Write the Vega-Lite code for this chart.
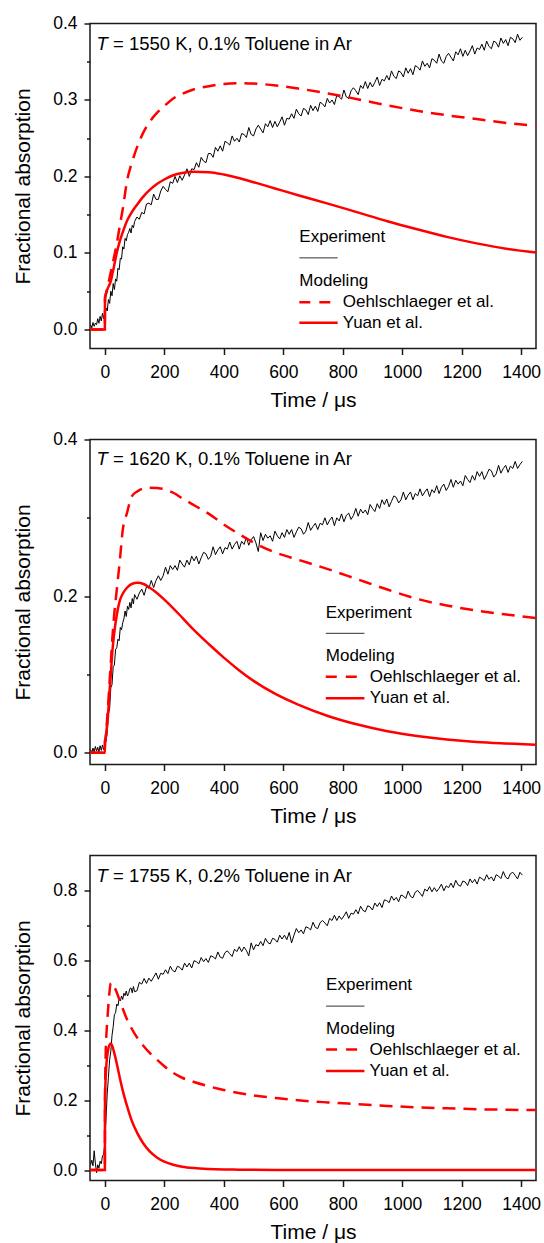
{
  "$schema": "https://vega.github.io/schema/vega-lite/v6.json",
  "background": "white",
  "padding": {"left": 11, "top": 13.5, "right": 0, "bottom": 0},
  "bounds": "flush",
  "spacing": 91,
  "config": {
    "font": "Liberation Sans",
    "view": {"stroke": "#1a1a1a", "strokeWidth": 1.5},
    "axis": {"domain": false, "grid": false, "tickColor": "#1a1a1a", "tickWidth": 1.5, "labelFont": "Liberation Sans", "labelFontSize": 17.5, "labelColor": "black", "titleFont": "Liberation Sans", "titleFontSize": 21, "titleFontWeight": "normal", "titleColor": "black"},
    "axisX": {"labelPadding": 9, "titlePadding": 8, "labelFlush": false},
    "axisY": {"labelPadding": 7, "titlePadding": 19},
    "text": {"align": "left", "baseline": "alphabetic", "fontSize": 17, "font": "Liberation Sans", "color": "black"},
    "line": {"strokeCap": "butt"}
  },
  "datasets": {
    "exp": [
      {"t":-48,"a":0.006,"b":0.004,"c":0.015},{"t":-44,"a":0.002,"b":0.000,"c":0.028},{"t":-40,"a":0.009,"b":0.006,"c":0.012},{"t":-36,"a":0.004,"b":0.001,"c":0.055},{"t":-32,"a":0.008,"b":0.008,"c":0.020},{"t":-28,"a":0.006,"b":0.002,"c":-0.008},{"t":-24,"a":0.014,"b":0.007,"c":0.015},{"t":-20,"a":0.008,"b":0.001,"c":0.005},{"t":-16,"a":0.017,"b":0.009,"c":0.025},{"t":-12,"a":0.011,"b":0.003,"c":0.018},{"t":-8,"a":0.021,"b":0.010,"c":0.040},{"t":-4,"a":0.014,"b":0.004,"c":0.045},{"t":0,"a":0.022,"b":0.009,"c":0.080},
      {"t":4,"a":0.028,"b":0.015,"c":0.150},{"t":8,"a":0.024,"b":0.026,"c":0.220},{"t":12,"a":0.039,"b":0.050,"c":0.265},{"t":16,"a":0.034,"b":0.056,"c":0.315},{"t":20,"a":0.050,"b":0.083,"c":0.340},{"t":24,"a":0.044,"b":0.087,"c":0.385},{"t":28,"a":0.060,"b":0.110,"c":0.410},{"t":32,"a":0.052,"b":0.112,"c":0.445},{"t":36,"a":0.066,"b":0.132,"c":0.450},{"t":40,"a":0.063,"b":0.134,"c":0.475},{"t":44,"a":0.080,"b":0.145,"c":0.470},{"t":48,"a":0.078,"b":0.143,"c":0.490},{"t":52,"a":0.093,"b":0.160,"c":0.484},{"t":56,"a":0.092,"b":0.157,"c":0.498},{"t":60,"a":0.108,"b":0.166,"c":0.488},{"t":64,"a":0.105,"b":0.171,"c":0.506},{"t":68,"a":0.119,"b":0.181,"c":0.499},{"t":72,"a":0.116,"b":0.174,"c":0.512},{"t":76,"a":0.124,"b":0.187,"c":0.498},{"t":80,"a":0.127,"b":0.183,"c":0.505},{"t":84,"a":0.132,"b":0.192,"c":0.519},{"t":88,"a":0.126,"b":0.185,"c":0.521},{"t":92,"a":0.136,"b":0.197,"c":0.507},{"t":96,"a":0.133,"b":0.190,"c":0.525},{"t":100,"a":0.141,"b":0.202,"c":0.510},
      {"t":108,"a":0.147,"b":0.196,"c":0.513},{"t":116,"a":0.144,"b":0.204,"c":0.537},{"t":124,"a":0.153,"b":0.209,"c":0.532},{"t":132,"a":0.151,"b":0.201,"c":0.548},{"t":140,"a":0.164,"b":0.212,"c":0.534},{"t":148,"a":0.165,"b":0.210,"c":0.549},{"t":156,"a":0.163,"b":0.220,"c":0.540},{"t":164,"a":0.177,"b":0.211,"c":0.552},{"t":172,"a":0.170,"b":0.220,"c":0.564},{"t":180,"a":0.170,"b":0.226,"c":0.546},{"t":188,"a":0.181,"b":0.220,"c":0.563},{"t":196,"a":0.187,"b":0.226,"c":0.560},{"t":204,"a":0.183,"b":0.237,"c":0.573},{"t":212,"a":0.180,"b":0.228,"c":0.562},{"t":220,"a":0.193,"b":0.239,"c":0.583},{"t":228,"a":0.191,"b":0.234,"c":0.571},{"t":236,"a":0.200,"b":0.239,"c":0.567},{"t":244,"a":0.192,"b":0.233,"c":0.583},{"t":252,"a":0.201,"b":0.246,"c":0.580},{"t":260,"a":0.195,"b":0.241,"c":0.572},{"t":268,"a":0.202,"b":0.237,"c":0.592},{"t":276,"a":0.210,"b":0.246,"c":0.581},{"t":284,"a":0.200,"b":0.240,"c":0.592},{"t":292,"a":0.210,"b":0.251,"c":0.578},{"t":300,"a":0.209,"b":0.245,"c":0.599},{"t":308,"a":0.218,"b":0.251,"c":0.596},{"t":316,"a":0.212,"b":0.241,"c":0.590},{"t":324,"a":0.225,"b":0.249,"c":0.608},{"t":332,"a":0.220,"b":0.256,"c":0.596},{"t":340,"a":0.218,"b":0.254,"c":0.605},{"t":348,"a":0.230,"b":0.247,"c":0.594},{"t":356,"a":0.230,"b":0.251,"c":0.613},{"t":364,"a":0.225,"b":0.263,"c":0.610},{"t":372,"a":0.238,"b":0.253,"c":0.604},{"t":380,"a":0.233,"b":0.259,"c":0.624},{"t":388,"a":0.240,"b":0.263,"c":0.609},{"t":396,"a":0.233,"b":0.254,"c":0.606},{"t":404,"a":0.246,"b":0.262,"c":0.622},{"t":412,"a":0.244,"b":0.260,"c":0.627},{"t":420,"a":0.241,"b":0.269,"c":0.619},{"t":428,"a":0.253,"b":0.260,"c":0.611},{"t":436,"a":0.246,"b":0.266,"c":0.632},{"t":444,"a":0.250,"b":0.270,"c":0.625},{"t":452,"a":0.245,"b":0.260,"c":0.639},{"t":460,"a":0.256,"b":0.270,"c":0.625},{"t":468,"a":0.255,"b":0.266,"c":0.638},{"t":476,"a":0.251,"b":0.275,"c":0.628},{"t":484,"a":0.264,"b":0.265,"c":0.613},{"t":492,"a":0.255,"b":0.272,"c":0.650},{"t":500,"a":0.253,"b":0.276,"c":0.630},{"t":508,"a":0.262,"b":0.268,"c":0.645},{"t":516,"a":0.267,"b":0.257,"c":0.641},{"t":524,"a":0.262,"b":0.281,"c":0.654},{"t":532,"a":0.257,"b":0.271,"c":0.642},{"t":540,"a":0.269,"b":0.279,"c":0.663},{"t":548,"a":0.265,"b":0.274,"c":0.651},{"t":556,"a":0.273,"b":0.277,"c":0.647},{"t":564,"a":0.264,"b":0.270,"c":0.663},{"t":572,"a":0.272,"b":0.283,"c":0.660},{"t":580,"a":0.265,"b":0.277,"c":0.652},{"t":588,"a":0.271,"b":0.273,"c":0.672},{"t":596,"a":0.278,"b":0.281,"c":0.661},{"t":604,"a":0.267,"b":0.275,"c":0.672},{"t":612,"a":0.276,"b":0.285,"c":0.659},{"t":620,"a":0.275,"b":0.279,"c":0.680},{"t":628,"a":0.282,"b":0.285,"c":0.650},{"t":636,"a":0.276,"b":0.275,"c":0.672},{"t":644,"a":0.288,"b":0.282,"c":0.691},{"t":652,"a":0.282,"b":0.288,"c":0.679},{"t":660,"a":0.279,"b":0.286,"c":0.687},{"t":668,"a":0.289,"b":0.279,"c":0.676},{"t":676,"a":0.287,"b":0.283,"c":0.696},{"t":684,"a":0.281,"b":0.294,"c":0.693},{"t":692,"a":0.293,"b":0.284,"c":0.687},{"t":700,"a":0.286,"b":0.289,"c":0.709},{"t":708,"a":0.292,"b":0.293,"c":0.694},{"t":716,"a":0.285,"b":0.285,"c":0.691},{"t":724,"a":0.297,"b":0.293,"c":0.708},{"t":732,"a":0.295,"b":0.291,"c":0.714},{"t":740,"a":0.291,"b":0.300,"c":0.707},{"t":748,"a":0.302,"b":0.291,"c":0.699},{"t":756,"a":0.296,"b":0.297,"c":0.720},{"t":764,"a":0.300,"b":0.301,"c":0.714},{"t":772,"a":0.294,"b":0.290,"c":0.729},{"t":780,"a":0.306,"b":0.300,"c":0.714},{"t":788,"a":0.304,"b":0.296,"c":0.727},{"t":796,"a":0.301,"b":0.305,"c":0.717},{"t":804,"a":0.313,"b":0.295,"c":0.727},{"t":812,"a":0.304,"b":0.303,"c":0.739},{"t":820,"a":0.302,"b":0.306,"c":0.720},{"t":828,"a":0.312,"b":0.298,"c":0.735},{"t":836,"a":0.316,"b":0.303,"c":0.732},{"t":844,"a":0.312,"b":0.312,"c":0.745},{"t":852,"a":0.307,"b":0.302,"c":0.733},{"t":860,"a":0.319,"b":0.311,"c":0.755},{"t":868,"a":0.315,"b":0.306,"c":0.743},{"t":876,"a":0.324,"b":0.310,"c":0.739},{"t":884,"a":0.315,"b":0.304,"c":0.756},{"t":892,"a":0.323,"b":0.317,"c":0.753},{"t":900,"a":0.317,"b":0.312,"c":0.744},{"t":908,"a":0.323,"b":0.308,"c":0.764},{"t":916,"a":0.330,"b":0.318,"c":0.754},{"t":924,"a":0.319,"b":0.312,"c":0.765},{"t":932,"a":0.327,"b":0.323,"c":0.751},{"t":940,"a":0.325,"b":0.317,"c":0.773},{"t":948,"a":0.332,"b":0.324,"c":0.771},{"t":956,"a":0.326,"b":0.314,"c":0.765},{"t":964,"a":0.338,"b":0.321,"c":0.784},{"t":972,"a":0.331,"b":0.328,"c":0.772},{"t":980,"a":0.328,"b":0.326,"c":0.780},{"t":988,"a":0.338,"b":0.319,"c":0.768},{"t":996,"a":0.336,"b":0.323,"c":0.787},{"t":1004,"a":0.330,"b":0.333,"c":0.784},{"t":1012,"a":0.342,"b":0.323,"c":0.777},{"t":1020,"a":0.335,"b":0.329,"c":0.798},{"t":1028,"a":0.341,"b":0.333,"c":0.783},{"t":1036,"a":0.333,"b":0.323,"c":0.779},{"t":1044,"a":0.345,"b":0.331,"c":0.795},{"t":1052,"a":0.343,"b":0.328,"c":0.800},{"t":1060,"a":0.339,"b":0.337,"c":0.792},{"t":1068,"a":0.351,"b":0.328,"c":0.783},{"t":1076,"a":0.344,"b":0.333,"c":0.804},{"t":1084,"a":0.348,"b":0.337,"c":0.798},{"t":1092,"a":0.342,"b":0.327,"c":0.811},{"t":1100,"a":0.354,"b":0.336,"c":0.796},{"t":1108,"a":0.352,"b":0.332,"c":0.808},{"t":1116,"a":0.348,"b":0.341,"c":0.797},{"t":1124,"a":0.360,"b":0.331,"c":0.806},{"t":1132,"a":0.351,"b":0.339,"c":0.818},{"t":1140,"a":0.348,"b":0.343,"c":0.799},{"t":1148,"a":0.357,"b":0.335,"c":0.813},{"t":1156,"a":0.361,"b":0.340,"c":0.808},{"t":1164,"a":0.356,"b":0.349,"c":0.821},{"t":1172,"a":0.351,"b":0.339,"c":0.808},{"t":1180,"a":0.363,"b":0.348,"c":0.829},{"t":1188,"a":0.359,"b":0.343,"c":0.816},{"t":1196,"a":0.367,"b":0.347,"c":0.812},{"t":1204,"a":0.357,"b":0.341,"c":0.827},{"t":1212,"a":0.365,"b":0.354,"c":0.824},{"t":1220,"a":0.358,"b":0.349,"c":0.814},{"t":1228,"a":0.364,"b":0.345,"c":0.833},{"t":1236,"a":0.371,"b":0.354,"c":0.822},{"t":1244,"a":0.360,"b":0.348,"c":0.832},{"t":1252,"a":0.368,"b":0.359,"c":0.818},{"t":1260,"a":0.366,"b":0.353,"c":0.838},{"t":1268,"a":0.373,"b":0.359,"c":0.834},{"t":1276,"a":0.365,"b":0.349,"c":0.828},{"t":1284,"a":0.377,"b":0.355,"c":0.845},{"t":1292,"a":0.370,"b":0.362,"c":0.832},{"t":1300,"a":0.367,"b":0.360,"c":0.839},{"t":1308,"a":0.377,"b":0.352,"c":0.827},{"t":1316,"a":0.375,"b":0.356,"c":0.845},{"t":1324,"a":0.369,"b":0.367,"c":0.841},{"t":1332,"a":0.381,"b":0.357,"c":0.834},{"t":1340,"a":0.374,"b":0.363,"c":0.854},{"t":1348,"a":0.379,"b":0.367,"c":0.838},{"t":1356,"a":0.371,"b":0.358,"c":0.833},{"t":1364,"a":0.382,"b":0.366,"c":0.848},{"t":1372,"a":0.380,"b":0.363,"c":0.852},{"t":1380,"a":0.375,"b":0.372,"c":0.843},{"t":1388,"a":0.386,"b":0.363,"c":0.833},{"t":1396,"a":0.378,"b":0.368,"c":0.852},{"t":1404,"a":0.382,"b":0.372,"c":0.844}
    ],
    "mod": [
      {"t":-50,"o1":0,"y1":0,"o2":0,"y2":0,"o3":0,"y3":0},
      {"t":0,"o1":0,"y1":0,"o2":0,"y2":0,"o3":0,"y3":0},
      {"t":0.5,"o1":0.04,"y1":0.042,"o2":0.015,"y2":0.015,"o3":0.2,"y3":0.2},
      {"t":3,"o1":0.045,"y1":0.046,"o2":0.02,"y2":0.02,"o3":0.34,"y3":0.27},
      {"t":6,"o1":0.05,"y1":0.05,"o2":0.035,"y2":0.03,"o3":0.40,"y3":0.31},
      {"t":10,"o1":0.057,"y1":0.054,"o2":0.055,"y2":0.045,"o3":0.45,"y3":0.34},
      {"t":15,"o1":0.066,"y1":0.058,"o2":0.085,"y2":0.075,"o3":0.505,"y3":0.357},
      {"t":20,"o1":0.075,"y1":0.063,"o2":0.115,"y2":0.1,"o3":0.535,"y3":0.362},
      {"t":25,"o1":0.084,"y1":0.072,"o2":0.145,"y2":0.128,"o3":0.536,"y3":0.355},
      {"t":30,"o1":0.093,"y1":0.081,"o2":0.17,"y2":0.148,"o3":0.528,"y3":0.34},
      {"t":40,"o1":0.112,"y1":0.1,"o2":0.208,"y2":0.176,"o3":0.508,"y3":0.305},
      {"t":50,"o1":0.135,"y1":0.115,"o2":0.244,"y2":0.194,"o3":0.485,"y3":0.265},
      {"t":60,"o1":0.157,"y1":0.127,"o2":0.284,"y2":0.203,"o3":0.462,"y3":0.228},
      {"t":75,"o1":0.195,"y1":0.1425,"o2":0.307,"y2":0.211,"o3":0.43,"y3":0.182},
      {"t":90,"o1":0.217,"y1":0.153,"o2":0.327,"y2":0.2155,"o3":0.405,"y3":0.142},
      {"t":110,"o1":0.24,"y1":0.164,"o2":0.334,"y2":0.217,"o3":0.377,"y3":0.104},
      {"t":130,"o1":0.258,"y1":0.174,"o2":0.3375,"y2":0.2155,"o3":0.355,"y3":0.075},
      {"t":150,"o1":0.271,"y1":0.182,"o2":0.3385,"y2":0.211,"o3":0.336,"y3":0.054},
      {"t":175,"o1":0.283,"y1":0.19,"o2":0.338,"y2":0.204,"o3":0.316,"y3":0.036},
      {"t":200,"o1":0.292,"y1":0.196,"o2":0.3365,"y2":0.1955,"o3":0.297,"y3":0.024},
      {"t":230,"o1":0.302,"y1":0.2015,"o2":0.332,"y2":0.1845,"o3":0.278,"y3":0.015},
      {"t":260,"o1":0.308,"y1":0.2045,"o2":0.325,"y2":0.1725,"o3":0.264,"y3":0.0095},
      {"t":300,"o1":0.314,"y1":0.206,"o2":0.316,"y2":0.1565,"o3":0.252,"y3":0.0055},
      {"t":350,"o1":0.318,"y1":0.2055,"o2":0.305,"y2":0.1385,"o3":0.2395,"y3":0.003},
      {"t":400,"o1":0.321,"y1":0.2025,"o2":0.2915,"y2":0.1215,"o3":0.229,"y3":0.0017},
      {"t":450,"o1":0.322,"y1":0.198,"o2":0.2795,"y2":0.1058,"o3":0.2205,"y3":0.001},
      {"t":500,"o1":0.3215,"y1":0.1925,"o2":0.2685,"y2":0.0918,"o3":0.2135,"y3":0.0006},
      {"t":575,"o1":0.319,"y1":0.184,"o2":0.2555,"y2":0.0748,"o3":0.206,"y3":0.0003},
      {"t":650,"o1":0.315,"y1":0.1755,"o2":0.2465,"y2":0.0615,"o3":0.1995,"y3":0.0002},
      {"t":750,"o1":0.3085,"y1":0.1645,"o2":0.2345,"y2":0.047,"o3":0.1935,"y3":0.0001},
      {"t":850,"o1":0.301,"y1":0.153,"o2":0.2215,"y2":0.036,"o3":0.1885,"y3":0},
      {"t":950,"o1":0.293,"y1":0.1415,"o2":0.2085,"y2":0.0275,"o3":0.1835,"y3":0},
      {"t":1050,"o1":0.286,"y1":0.131,"o2":0.1965,"y2":0.0215,"o3":0.1795,"y3":0},
      {"t":1150,"o1":0.28,"y1":0.121,"o2":0.188,"y2":0.017,"o3":0.1765,"y3":0},
      {"t":1250,"o1":0.275,"y1":0.1125,"o2":0.1815,"y2":0.0138,"o3":0.174,"y3":0},
      {"t":1350,"o1":0.27,"y1":0.1055,"o2":0.1765,"y2":0.0118,"o3":0.1725,"y3":0},
      {"t":1450,"o1":0.266,"y1":0.1005,"o2":0.172,"y2":0.0102,"o3":0.1715,"y3":0}
    ]
  },
  "vconcat": [
    {
      "width": 446, "height": 325,
      "layer": [
        {"data": {"name": "exp"}, "mark": {"type": "line", "color": "black", "strokeWidth": 1},
         "encoding": {
           "x": {"field": "t", "type": "quantitative", "title": "Time / μs", "scale": {"domain": [-50, 1450], "nice": false, "zero": false},
                 "axis": {"values": [0,100,200,300,400,500,600,700,800,900,1000,1100,1200,1300,1400], "labelExpr": "datum.value % 200 === 0 ? format(datum.value, 'd') : ''", "tickSize": {"condition": {"test": "datum.value % 200 === 0", "value": 6}, "value": 3.5}}},
           "y": {"field": "a", "type": "quantitative", "title": "Fractional absorption", "scale": {"domain": [-0.025, 0.4], "nice": false, "zero": false},
                 "axis": {"values": [0,0.05,0.1,0.15,0.2,0.25,0.3,0.35,0.4], "labelExpr": "round(datum.value*100) % 10 === 0 ? format(datum.value, '.1f') : ''", "tickSize": {"condition": {"test": "round(datum.value*100) % 10 === 0", "value": 6}, "value": 3.5}}}
         }},
        {"data": {"name": "mod"}, "mark": {"type": "line", "color": "#ff0000", "strokeWidth": 2.5, "strokeDash": [13, 8], "interpolate": "monotone"},
         "encoding": {"x": {"field": "t", "type": "quantitative", "title": "Time / μs"}, "y": {"field": "o1", "type": "quantitative", "title": "Fractional absorption"}}},
        {"data": {"name": "mod"}, "mark": {"type": "line", "color": "#ff0000", "strokeWidth": 2.5, "interpolate": "monotone"},
         "encoding": {"x": {"field": "t", "type": "quantitative", "title": "Time / μs"}, "y": {"field": "y1", "type": "quantitative", "title": "Fractional absorption"}}},
        {"data": {"values": [{}]}, "mark": {"type": "text", "text": "T", "fontStyle": "italic", "fontSize": 18.5}, "encoding": {"x": {"datum": -28}, "y": {"datum": 0.366}}},
        {"data": {"values": [{}]}, "mark": {"type": "text", "text": "= 1550 K, 0.1% Toluene in Ar", "fontSize": 18.5, "dx": 16.5}, "encoding": {"x": {"datum": -28}, "y": {"datum": 0.366}}},
        {"data": {"values": [{}]}, "mark": {"type": "text", "text": "Experiment"}, "encoding": {"x": {"datum": 654}, "y": {"datum": 0.1138}}},
        {"data": {"values": [{}]}, "mark": {"type": "rule", "color": "#333333", "strokeWidth": 1}, "encoding": {"x": {"datum": 654}, "x2": {"datum": 783}, "y": {"datum": 0.0935}}},
        {"data": {"values": [{}]}, "mark": {"type": "text", "text": "Modeling"}, "encoding": {"x": {"datum": 654}, "y": {"datum": 0.0565}}},
        {"data": {"values": [{}]}, "mark": {"type": "rule", "color": "#ff0000", "strokeWidth": 2.5, "strokeDash": [11, 9]}, "encoding": {"x": {"datum": 654}, "x2": {"datum": 766}, "y": {"datum": 0.0356}}},
        {"data": {"values": [{}]}, "mark": {"type": "text", "text": "Oehlschlaeger et al.", "baseline": "middle"}, "encoding": {"x": {"datum": 800}, "y": {"datum": 0.0356}}},
        {"data": {"values": [{}]}, "mark": {"type": "rule", "color": "#ff0000", "strokeWidth": 2.5}, "encoding": {"x": {"datum": 654}, "x2": {"datum": 783}, "y": {"datum": 0.0087}}},
        {"data": {"values": [{}]}, "mark": {"type": "text", "text": "Yuan et al.", "baseline": "middle"}, "encoding": {"x": {"datum": 800}, "y": {"datum": 0.0087}}}
      ]
    },
    {
      "width": 446, "height": 325,
      "layer": [
        {"data": {"name": "exp"}, "mark": {"type": "line", "color": "black", "strokeWidth": 1},
         "encoding": {
           "x": {"field": "t", "type": "quantitative", "title": "Time / μs", "scale": {"domain": [-50, 1450], "nice": false, "zero": false},
                 "axis": {"values": [0,100,200,300,400,500,600,700,800,900,1000,1100,1200,1300,1400], "labelExpr": "datum.value % 200 === 0 ? format(datum.value, 'd') : ''", "tickSize": {"condition": {"test": "datum.value % 200 === 0", "value": 6}, "value": 3.5}}},
           "y": {"field": "b", "type": "quantitative", "title": "Fractional absorption", "scale": {"domain": [-0.015, 0.4], "nice": false, "zero": false},
                 "axis": {"values": [0,0.1,0.2,0.3,0.4], "labelExpr": "round(datum.value*10) % 2 === 0 ? format(datum.value, '.1f') : ''", "tickSize": {"condition": {"test": "round(datum.value*10) % 2 === 0", "value": 6}, "value": 3.5}}}
         }},
        {"data": {"name": "mod"}, "mark": {"type": "line", "color": "#ff0000", "strokeWidth": 2.5, "strokeDash": [13, 8], "interpolate": "monotone"},
         "encoding": {"x": {"field": "t", "type": "quantitative", "title": "Time / μs"}, "y": {"field": "o2", "type": "quantitative", "title": "Fractional absorption"}}},
        {"data": {"name": "mod"}, "mark": {"type": "line", "color": "#ff0000", "strokeWidth": 2.5, "interpolate": "monotone"},
         "encoding": {"x": {"field": "t", "type": "quantitative", "title": "Time / μs"}, "y": {"field": "y2", "type": "quantitative", "title": "Fractional absorption"}}},
        {"data": {"values": [{}]}, "mark": {"type": "text", "text": "T", "fontStyle": "italic", "fontSize": 18.5}, "encoding": {"x": {"datum": -28}, "y": {"datum": 0.367}}},
        {"data": {"values": [{}]}, "mark": {"type": "text", "text": "= 1620 K, 0.1% Toluene in Ar", "fontSize": 18.5, "dx": 16.5}, "encoding": {"x": {"datum": -28}, "y": {"datum": 0.367}}},
        {"data": {"values": [{}]}, "mark": {"type": "text", "text": "Experiment"}, "encoding": {"x": {"datum": 743}, "y": {"datum": 0.1724}}},
        {"data": {"values": [{}]}, "mark": {"type": "rule", "color": "#333333", "strokeWidth": 1}, "encoding": {"x": {"datum": 743}, "x2": {"datum": 873}, "y": {"datum": 0.1525}}},
        {"data": {"values": [{}]}, "mark": {"type": "text", "text": "Modeling"}, "encoding": {"x": {"datum": 743}, "y": {"datum": 0.117}}},
        {"data": {"values": [{}]}, "mark": {"type": "rule", "color": "#ff0000", "strokeWidth": 2.5, "strokeDash": [11, 9]}, "encoding": {"x": {"datum": 743}, "x2": {"datum": 856}, "y": {"datum": 0.097}}},
        {"data": {"values": [{}]}, "mark": {"type": "text", "text": "Oehlschlaeger et al.", "baseline": "middle"}, "encoding": {"x": {"datum": 891}, "y": {"datum": 0.097}}},
        {"data": {"values": [{}]}, "mark": {"type": "rule", "color": "#ff0000", "strokeWidth": 2.5}, "encoding": {"x": {"datum": 743}, "x2": {"datum": 873}, "y": {"datum": 0.0695}}},
        {"data": {"values": [{}]}, "mark": {"type": "text", "text": "Yuan et al.", "baseline": "middle"}, "encoding": {"x": {"datum": 891}, "y": {"datum": 0.0695}}}
      ]
    },
    {
      "width": 446, "height": 325,
      "layer": [
        {"data": {"name": "exp"}, "mark": {"type": "line", "color": "black", "strokeWidth": 1},
         "encoding": {
           "x": {"field": "t", "type": "quantitative", "title": "Time / μs", "scale": {"domain": [-50, 1450], "nice": false, "zero": false},
                 "axis": {"values": [0,100,200,300,400,500,600,700,800,900,1000,1100,1200,1300,1400], "labelExpr": "datum.value % 200 === 0 ? format(datum.value, 'd') : ''", "tickSize": {"condition": {"test": "datum.value % 200 === 0", "value": 6}, "value": 3.5}}},
           "y": {"field": "c", "type": "quantitative", "title": "Fractional absorption", "scale": {"domain": [-0.03, 0.9], "nice": false, "zero": false},
                 "axis": {"values": [0,0.1,0.2,0.3,0.4,0.5,0.6,0.7,0.8], "labelExpr": "round(datum.value*10) % 2 === 0 ? format(datum.value, '.1f') : ''", "tickSize": {"condition": {"test": "round(datum.value*10) % 2 === 0", "value": 6}, "value": 3.5}}}
         }},
        {"data": {"name": "mod"}, "mark": {"type": "line", "color": "#ff0000", "strokeWidth": 2.5, "strokeDash": [13, 8], "interpolate": "monotone"},
         "encoding": {"x": {"field": "t", "type": "quantitative", "title": "Time / μs"}, "y": {"field": "o3", "type": "quantitative", "title": "Fractional absorption"}}},
        {"data": {"name": "mod"}, "mark": {"type": "line", "color": "#ff0000", "strokeWidth": 2.5, "interpolate": "monotone"},
         "encoding": {"x": {"field": "t", "type": "quantitative", "title": "Time / μs"}, "y": {"field": "y3", "type": "quantitative", "title": "Fractional absorption"}}},
        {"data": {"values": [{}]}, "mark": {"type": "text", "text": "T", "fontStyle": "italic", "fontSize": 18.5}, "encoding": {"x": {"datum": -28}, "y": {"datum": 0.824}}},
        {"data": {"values": [{}]}, "mark": {"type": "text", "text": "= 1755 K, 0.2% Toluene in Ar", "fontSize": 18.5, "dx": 16.5}, "encoding": {"x": {"datum": -28}, "y": {"datum": 0.824}}},
        {"data": {"values": [{}]}, "mark": {"type": "text", "text": "Experiment"}, "encoding": {"x": {"datum": 744}, "y": {"datum": 0.514}}},
        {"data": {"values": [{}]}, "mark": {"type": "rule", "color": "#333333", "strokeWidth": 1}, "encoding": {"x": {"datum": 744}, "x2": {"datum": 873}, "y": {"datum": 0.469}}},
        {"data": {"values": [{}]}, "mark": {"type": "text", "text": "Modeling"}, "encoding": {"x": {"datum": 744}, "y": {"datum": 0.39}}},
        {"data": {"values": [{}]}, "mark": {"type": "rule", "color": "#ff0000", "strokeWidth": 2.5, "strokeDash": [11, 9]}, "encoding": {"x": {"datum": 744}, "x2": {"datum": 856}, "y": {"datum": 0.3446}}},
        {"data": {"values": [{}]}, "mark": {"type": "text", "text": "Oehlschlaeger et al.", "baseline": "middle"}, "encoding": {"x": {"datum": 890}, "y": {"datum": 0.3446}}},
        {"data": {"values": [{}]}, "mark": {"type": "rule", "color": "#ff0000", "strokeWidth": 2.5}, "encoding": {"x": {"datum": 744}, "x2": {"datum": 873}, "y": {"datum": 0.283}}},
        {"data": {"values": [{}]}, "mark": {"type": "text", "text": "Yuan et al.", "baseline": "middle"}, "encoding": {"x": {"datum": 890}, "y": {"datum": 0.283}}}
      ]
    }
  ]
}
